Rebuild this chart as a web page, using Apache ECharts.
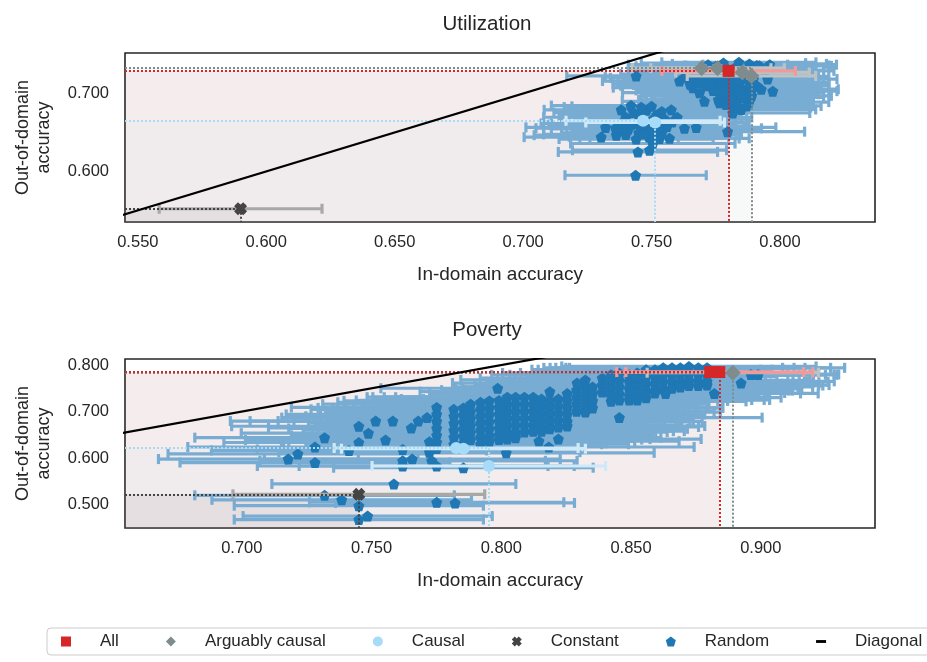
<!DOCTYPE html>
<html><head><meta charset="utf-8">
<script src="https://cdn.jsdelivr.net/npm/echarts@6/dist/echarts.min.js"></script>
<style>html,body{margin:0;padding:0;background:#fff}#c{width:927px;height:662px}</style>
</head><body><div id="c"></div>
<script>
// ---------- DATA ----------
// point format: [in-domain acc, out-of-domain acc, x error, (y error)]
const titles = ['Utilization', 'Poverty'];
const xTicksTop = [0.55, 0.6, 0.65, 0.7, 0.75, 0.8];
const yTicksTop = [0.6, 0.7];
const xTicksBot = [0.7, 0.75, 0.8, 0.85, 0.9];
const yTicksBot = [0.5, 0.6, 0.7, 0.8];
const xRangeTop = [0.545, 0.837];
const yRangeTop = [0.535, 0.752];
const xRangeBot = [0.655, 0.944];
const yRangeBot = [0.450, 0.813];
const diagonal = [[0, 0], [1, 1]];

const topAll = [[0.7800, 0.7290, 0.026, 0.003]];
const topArg = [[0.7695, 0.7325, 0.027, 0.003], [0.7757, 0.7325, 0.026, 0.003], [0.7854, 0.7270, 0.026, 0.003], [0.7889, 0.7225, 0.025, 0.003]];
const topCausal = [[0.7467, 0.6650, 0.030, 0.003], [0.7514, 0.6628, 0.027, 0.003]];
const topConst = [[0.5900, 0.5520, 0.0317, 0.004]];
const topRandom = [
  [0.7440,0.7225,0.027],[0.7609,0.7160,0.030],[0.7661,0.7075,0.031],[0.7687,0.7010,0.030],[0.7706,0.6900,0.032],
  [0.7765,0.6880,0.031],[0.7816,0.6750,0.030],[0.7849,0.6795,0.029],[0.7881,0.7140,0.031],[0.7927,0.7055,0.030],
  [0.7972,0.7030,0.025],[0.7952,0.7185,0.027],[0.7920,0.7355,0.028],[0.7881,0.7380,0.030],[0.7796,0.6510,0.030],
  [0.7660,0.7200,0.032],[0.7690,0.7250,0.031],[0.7720,0.7170,0.033],[0.7730,0.7280,0.030],[0.7750,0.7110,0.032],
  [0.7760,0.7220,0.031],[0.7780,0.7050,0.030],[0.7790,0.7170,0.033],[0.7800,0.7250,0.029],[0.7810,0.6990,0.031],
  [0.7820,0.7110,0.030],[0.7830,0.7200,0.032],[0.7840,0.6940,0.029],[0.7850,0.7070,0.031],[0.7860,0.7290,0.028],
  [0.7870,0.7010,0.030],[0.7880,0.6890,0.031],[0.7830,0.6870,0.030],[0.7800,0.6920,0.032],[0.7770,0.6970,0.031],
  [0.7740,0.7040,0.030],[0.7710,0.7100,0.033],[0.7680,0.7140,0.031],[0.7720,0.7230,0.029],[0.7760,0.7310,0.030],
  [0.7820,0.7320,0.031],[0.7850,0.7240,0.030],[0.7900,0.7220,0.029],[0.7910,0.7100,0.028],[0.7890,0.7040,0.030],
  [0.7860,0.6950,0.031],[0.7820,0.6820,0.030],[0.7790,0.6860,0.031],[0.7870,0.6840,0.029],[0.7760,0.7130,0.032],
  [0.7800,0.7110,0.030],[0.7840,0.7150,0.031],[0.7800,0.7030,0.033],[0.7740,0.7190,0.031],[0.7650,0.7120,0.030],
  [0.7630,0.7210,0.031],[0.7700,0.7310,0.029],[0.7940,0.7290,0.027],[0.7960,0.7370,0.026],[0.7910,0.7360,0.028],
  [0.7780,0.7390,0.032],[0.7840,0.7400,0.030],[0.7720,0.7370,0.031],
  [0.7750,0.7350,0.031],[0.7790,0.7330,0.030],[0.7810,0.7200,0.032],[0.7830,0.7060,0.031],[0.7850,0.6990,0.030],
  [0.7770,0.7080,0.031],[0.7790,0.7000,0.032],[0.7810,0.6930,0.030],[0.7880,0.7300,0.029],[0.7870,0.7190,0.030],
  [0.7890,0.6970,0.031],[0.7760,0.6920,0.031],[0.7730,0.7130,0.032],[0.7700,0.7200,0.031],[0.7820,0.7260,0.030],
  [0.7304,0.6440,0.030],[0.7321,0.6565,0.031],[0.7363,0.6465,0.032],[0.7382,0.6790,0.030],[0.7447,0.6250,0.031],
  [0.7492,0.6272,0.030],[0.7577,0.6790,0.029],[0.7628,0.6553,0.030],[0.7674,0.6565,0.031],[0.7505,0.6358,0.032],
  [0.7531,0.6422,0.031],[0.7380,0.6615,0.031],[0.7400,0.6695,0.032],[0.7410,0.6545,0.030],[0.7430,0.6755,0.031],
  [0.7440,0.6615,0.033],[0.7450,0.6495,0.030],[0.7460,0.6695,0.031],[0.7470,0.6575,0.032],[0.7480,0.6785,0.030],
  [0.7490,0.6445,0.031],[0.7500,0.6655,0.030],[0.7510,0.6545,0.032],[0.7520,0.6725,0.031],[0.7530,0.6605,0.030],
  [0.7540,0.6495,0.031],[0.7550,0.6675,0.032],[0.7560,0.6575,0.030],[0.7570,0.6425,0.031],[0.7580,0.6635,0.030],
  [0.7600,0.6695,0.029],[0.7420,0.6845,0.031],[0.7460,0.6825,0.030],[0.7500,0.6835,0.031],[0.7400,0.6475,0.032],
  [0.7360,0.6555,0.031],[0.7440,0.6415,0.030],[0.7520,0.6465,0.031],
  [0.7420,0.6600,0.032],[0.7450,0.6720,0.031],[0.7480,0.6620,0.030],[0.7500,0.6520,0.031],[0.7530,0.6700,0.032],
  [0.7560,0.6620,0.031],[0.7470,0.6480,0.030],[0.7390,0.6560,0.031],[0.7540,0.6770,0.030],[0.7510,0.6600,0.031],
  [0.7438,0.5950,0.0275,0.005]
];

const botAll = [[0.8805, 0.7850, 0.036, 0.003], [0.8840, 0.7850, 0.036, 0.003]];
const botArg = [[0.8892, 0.7836, 0.033, 0.003]];
const botCausal = [[0.7826, 0.6218, 0.047, 0.003], [0.7854, 0.6203, 0.047, 0.003], [0.7952, 0.5832, 0.045, 0.003]];
const botConst = [[0.7451, 0.5224, 0.0485, 0.004]];
const botRandom = [
  [0.7751,0.709,0.056],[0.7751,0.694,0.058],[0.7751,0.679,0.055],[0.7751,0.664,0.057],[0.7751,0.649,0.056],[0.7751,0.634,0.059],[0.7751,0.621,0.057],
  [0.7817,0.705,0.055],[0.7817,0.690,0.057],[0.7817,0.675,0.056],[0.7817,0.660,0.058],[0.7817,0.645,0.055],[0.7817,0.630,0.057],
  [0.7854,0.708,0.056],[0.7854,0.693,0.055],[0.7854,0.678,0.057],[0.7854,0.663,0.056],[0.7854,0.648,0.058],[0.7854,0.632,0.055],
  [0.7882,0.716,0.057],[0.7882,0.700,0.056],[0.7882,0.685,0.055],[0.7882,0.670,0.058],[0.7882,0.655,0.056],[0.7882,0.640,0.057],
  [0.7920,0.720,0.055],[0.7920,0.705,0.057],[0.7920,0.690,0.056],[0.7920,0.675,0.055],[0.7920,0.660,0.058],[0.7920,0.645,0.056],[0.7920,0.630,0.057],
  [0.7954,0.723,0.056],[0.7954,0.708,0.055],[0.7954,0.693,0.057],[0.7954,0.678,0.056],[0.7954,0.663,0.055],[0.7954,0.648,0.058],[0.7954,0.636,0.056],
  [0.7991,0.724,0.055],[0.7991,0.709,0.056],[0.7991,0.694,0.057],[0.7991,0.679,0.055],[0.7991,0.664,0.056],[0.7991,0.650,0.058],[0.7991,0.640,0.055],
  [0.8023,0.731,0.054],[0.8023,0.716,0.056],[0.8023,0.701,0.055],[0.8023,0.686,0.057],[0.8023,0.671,0.054],[0.8023,0.656,0.056],[0.8023,0.641,0.055],
  [0.8055,0.731,0.055],[0.8055,0.716,0.054],[0.8055,0.701,0.056],[0.8055,0.686,0.055],[0.8055,0.671,0.057],[0.8055,0.656,0.054],[0.8055,0.644,0.056],
  [0.8089,0.731,0.054],[0.8089,0.716,0.055],[0.8089,0.701,0.053],[0.8089,0.686,0.056],[0.8089,0.671,0.054],[0.8089,0.656,0.055],
  [0.8123,0.731,0.053],[0.8123,0.716,0.055],[0.8123,0.701,0.054],[0.8123,0.686,0.053],[0.8123,0.671,0.055],[0.8123,0.658,0.054],
  [0.8155,0.727,0.054],[0.8155,0.712,0.053],[0.8155,0.697,0.055],[0.8155,0.682,0.054],[0.8155,0.667,0.053],[0.8155,0.658,0.055],
  [0.8187,0.723,0.053],[0.8187,0.708,0.054],[0.8187,0.693,0.052],[0.8187,0.678,0.054],[0.8187,0.663,0.053],
  [0.8220,0.727,0.052],[0.8220,0.712,0.054],[0.8220,0.697,0.053],[0.8220,0.682,0.052],[0.8220,0.667,0.054],
  [0.8254,0.739,0.053],[0.8254,0.724,0.052],[0.8254,0.709,0.054],[0.8254,0.694,0.053],[0.8254,0.679,0.052],[0.8254,0.669,0.053],
  [0.8290,0.746,0.052],[0.8290,0.731,0.053],[0.8290,0.716,0.051],[0.8290,0.701,0.053],
  [0.8324,0.768,0.048],[0.8324,0.753,0.050],[0.8324,0.738,0.052],[0.8324,0.723,0.051],[0.8324,0.708,0.053],[0.8324,0.699,0.052],
  [0.8352,0.753,0.050],[0.8352,0.738,0.051],[0.8352,0.723,0.052],[0.8352,0.708,0.050],
  [0.8389,0.772,0.047],[0.8389,0.757,0.049],[0.8389,0.742,0.050],
  [0.8423,0.779,0.046],[0.8423,0.764,0.048],[0.8423,0.749,0.050],[0.8423,0.734,0.051],[0.8423,0.722,0.052],
  [0.8455,0.783,0.045],[0.8455,0.768,0.047],[0.8455,0.753,0.049],[0.8455,0.738,0.050],[0.8455,0.725,0.051],
  [0.8493,0.779,0.046],[0.8493,0.764,0.048],[0.8493,0.749,0.049],[0.8493,0.734,0.050],[0.8493,0.725,0.052],
  [0.8524,0.783,0.045],[0.8524,0.768,0.047],[0.8524,0.753,0.049],[0.8524,0.738,0.050],[0.8524,0.725,0.051],
  [0.8558,0.790,0.044],[0.8558,0.775,0.046],[0.8558,0.760,0.048],[0.8558,0.745,0.055],[0.8558,0.730,0.052],
  [0.8592,0.790,0.045],[0.8592,0.775,0.047],[0.8592,0.760,0.049],[0.8592,0.745,0.053],[0.8592,0.740,0.050],
  [0.8624,0.794,0.046],[0.8624,0.779,0.048],[0.8624,0.764,0.050],[0.8624,0.749,0.052],
  [0.8658,0.794,0.047],[0.8658,0.779,0.049],[0.8658,0.764,0.051],[0.8658,0.750,0.050],
  [0.8690,0.794,0.048],[0.8690,0.779,0.050],[0.8690,0.764,0.049],[0.8690,0.753,0.051],
  [0.8723,0.797,0.049],[0.8723,0.782,0.050],[0.8723,0.767,0.048],[0.8723,0.756,0.050],
  [0.8759,0.794,0.051],[0.8759,0.779,0.049],[0.8759,0.764,0.050],[0.8759,0.756,0.048],
  [0.8793,0.794,0.053],[0.8793,0.779,0.050],[0.8793,0.765,0.049],[0.8793,0.757,0.047],
  [0.7986,0.7502,0.045],[0.8187,0.7428,0.050],[0.8292,0.7613,0.048],[0.8455,0.6871,0.055],[0.8633,0.7390,0.052],
  [0.8821,0.7390,0.040],[0.8924,0.7613,0.030],[0.8962,0.7799,0.032],[0.8990,0.7799,0.031],
  [0.8145,0.6366,0.054],[0.8220,0.6411,0.055],[0.8183,0.6240,0.056],[0.8019,0.6114,0.057],[0.7723,0.6129,0.058],
  [0.7732,0.5944,0.056],[0.7657,0.5981,0.057],[0.7620,0.5944,0.055],[0.7620,0.5832,0.056],[0.7582,0.6797,0.055],
  [0.7554,0.6389,0.054],[0.7516,0.6797,0.056],[0.7488,0.6537,0.049],[0.7451,0.6686,0.049],[0.7451,0.6337,0.052],
  [0.7413,0.6166,0.053],[0.7319,0.6441,0.050],[0.7282,0.6240,0.049],[0.7282,0.5906,0.052],[0.7216,0.6092,0.050],
  [0.7179,0.5981,0.050],[0.7620,0.6188,0.056],[0.7653,0.6648,0.055],[0.7680,0.6797,0.054],[0.7714,0.6871,0.056],
  [0.7723,0.6352,0.057],[0.7854,0.5795,0.050],[0.7751,0.5832,0.053],
  [0.7586,0.5446,0.047],[0.7319,0.5202,0.050],[0.7385,0.5105,0.050],[0.7451,0.4979,0.048],[0.7451,0.4682,0.048],
  [0.7485,0.4756,0.048],[0.7751,0.5053,0.049],[0.7822,0.5038,0.046]
];

// ---------- STYLE ----------
const FONT = '"Liberation Sans", Arial, sans-serif';
const TXT = '#262626';
const C = {
  all: '#d62728', allBar: '#f09a9a', allArea: 'rgba(214,39,40,0.05)',
  arg: '#7f8c8d', argBar: '#bcc3c5', argArea: 'rgba(127,140,141,0.06)',
  causal: '#a6dcf7', causalBar: '#cfe9f8', causalArea: 'rgba(166,220,247,0.06)',
  cst: '#444444', cstBar: '#a8a8a8', cstArea: 'rgba(68,68,68,0.07)',
  rnd: '#1f77b4', rndBar: '#78acd2'
};
const PENT = 'path://M5,0 L10,3.8 L8.1,10 L1.9,10 L0,3.8 Z';
const XSYM = 'path://M3,0 L5,2 L7,0 L10,3 L8,5 L10,7 L7,10 L5,8 L3,10 L0,7 L2,5 L0,3 Z';
const DASH = 'path://M0,0 L7,0 L7,2 L0,2 Z';

function errSeries(name, data, g, color, z) {
  return {
    type: 'custom', name: name + ' err', xAxisIndex: g, yAxisIndex: g, z: z, silent: true, clip: true,
    encode: { x: 0, y: 1 },
    data: data,
    renderItem: function (params, api) {
      const x = api.value(0), y = api.value(1), e = api.value(2), ye = api.value(3);
      const a = api.coord([x - e, y]), b = api.coord([x + e, y]);
      const cap = 5;
      const st = { stroke: color, lineWidth: 3.2 };
      const ch = [
        { type: 'line', shape: { x1: a[0], y1: a[1], x2: b[0], y2: b[1] }, style: st },
        { type: 'line', shape: { x1: a[0], y1: a[1] - cap, x2: a[0], y2: a[1] + cap }, style: st },
        { type: 'line', shape: { x1: b[0], y1: b[1] - cap, x2: b[0], y2: b[1] + cap }, style: st }
      ];
      if (ye > 0) {
        const p = api.coord([x, y + ye]), q = api.coord([x, y - ye]);
        ch.push({ type: 'line', shape: { x1: p[0], y1: p[1], x2: q[0], y2: q[1] }, style: st });
        ch.push({ type: 'line', shape: { x1: p[0] - cap, y1: p[1], x2: p[0] + cap, y2: p[1] }, style: st });
        ch.push({ type: 'line', shape: { x1: q[0] - cap, y1: q[1], x2: q[0] + cap, y2: q[1] }, style: st });
      }
      return { type: 'group', children: ch };
    }
  };
}

function groupSeries(name, data, g, symbol, size, color, area, xr, yr, z) {
  const mx = Math.max.apply(null, data.map(d => d[0]));
  const my = Math.max.apply(null, data.map(d => d[1]));
  return {
    type: 'scatter', name: name, xAxisIndex: g, yAxisIndex: g, z: z,
    symbol: symbol, symbolSize: size, itemStyle: { color: color, opacity: 1 },
    data: data.map(d => [d[0], d[1]]),
    markArea: { silent: true, itemStyle: { color: area }, data: [[{ coord: [xr[0], yr[0]] }, { coord: [mx, my] }]] },
    markLine: {
      silent: true, symbol: ['none', 'none'], label: { show: false },
      lineStyle: { color: color, type: 'dotted', width: 2, opacity: 1 },
      data: [[{ coord: [xr[0], my] }, { coord: [mx, my] }], [{ coord: [mx, my] }, { coord: [mx, yr[0]] }]]
    }
  };
}

function panelSeries(g, xr, yr, all, arg, causal, cst, rnd) {
  return [
    errSeries('Random', rnd, g, C.rndBar, 2),
    { type: 'scatter', name: 'Random', xAxisIndex: g, yAxisIndex: g, z: 3, symbol: PENT, symbolSize: 11,
      itemStyle: { color: C.rnd, opacity: 1 }, data: rnd.map(d => [d[0], d[1]]) },
    errSeries('Causal', causal, g, C.causalBar, 4),
    errSeries('Constant', cst, g, C.cstBar, 4),
    errSeries('Arguably causal', arg, g, C.argBar, 4),
    errSeries('All', all, g, C.allBar, 4),
    groupSeries('Causal', causal, g, 'circle', 12, C.causal, C.causalArea, xr, yr, 5),
    groupSeries('Constant', cst, g, XSYM, 13, C.cst, C.cstArea, xr, yr, 5),
    groupSeries('Arguably causal', arg, g, 'diamond', 16, C.arg, C.argArea, xr, yr, 6),
    groupSeries('All', all, g, 'rect', 12, C.all, C.allArea, xr, yr, 7),
    { type: 'line', name: 'Diagonal', xAxisIndex: g, yAxisIndex: g, z: 8, showSymbol: false, clip: true,
      data: diagonal, lineStyle: { color: '#000', width: 2.2 }, itemStyle: { color: '#000' } }
  ];
}

function xAxis(g, r, ticks, gap) {
  return { gridIndex: g, type: 'value', min: r[0], max: r[1],
    axisLine: { show: false }, axisTick: { show: false }, splitLine: { show: false },
    axisLabel: { customValues: ticks, formatter: v => v.toFixed(3), fontSize: 16.5, color: TXT, margin: 12, fontFamily: FONT },
    name: 'In-domain accuracy', nameLocation: 'middle', nameGap: gap,
    nameTextStyle: { fontSize: 19, color: TXT, fontFamily: FONT } };
}
function yAxis(g, r, ticks) {
  return { gridIndex: g, type: 'value', min: r[0], max: r[1],
    axisLine: { show: false }, axisTick: { show: false }, splitLine: { show: false },
    axisLabel: { customValues: ticks, formatter: v => v.toFixed(3), fontSize: 16.5, color: TXT, margin: 16, fontFamily: FONT },
    name: 'Out-of-domain\naccuracy', nameLocation: 'middle', nameGap: 70, nameRotate: 90,
    nameTextStyle: { fontSize: 18, lineHeight: 21, color: TXT, fontFamily: FONT, align: 'center' } };
}

const chart = echarts.init(document.getElementById('c'), null, { renderer: 'canvas' });
chart.setOption({
  animation: false,
  backgroundColor: '#ffffff',
  textStyle: { fontFamily: FONT },
  title: [
    { text: titles[0], left: 482, top: 9, textAlign: 'center', textStyle: { fontSize: 20.5, fontWeight: 'normal', color: TXT, fontFamily: FONT } },
    { text: titles[1], left: 482, top: 315, textAlign: 'center', textStyle: { fontSize: 20.5, fontWeight: 'normal', color: TXT, fontFamily: FONT } }
  ],
  grid: [
    { left: 125, top: 53, width: 750, height: 169, show: true, borderColor: '#262626', borderWidth: 1.6, backgroundColor: 'transparent' },
    { left: 125, top: 359, width: 750, height: 169, show: true, borderColor: '#262626', borderWidth: 1.6, backgroundColor: 'transparent' }
  ],
  xAxis: [xAxis(0, xRangeTop, xTicksTop, 43), xAxis(1, xRangeBot, xTicksBot, 43)],
  yAxis: [yAxis(0, yRangeTop, yTicksTop), yAxis(1, yRangeBot, yTicksBot)],
  legend: {
    left: 47, top: 628, width: 1000, orient: 'horizontal', itemWidth: 10, itemHeight: 10, itemGap: 47,
    padding: [5, 14], borderColor: '#cccccc', borderWidth: 1, borderRadius: 4,
    textStyle: { fontSize: 17, color: TXT, fontFamily: FONT, padding: [0, 0, 0, 24] },
    data: [
      { name: 'All', icon: 'rect' },
      { name: 'Arguably causal', icon: 'diamond' },
      { name: 'Causal', icon: 'circle' },
      { name: 'Constant', icon: XSYM },
      { name: 'Random', icon: PENT },
      { name: 'Diagonal', icon: DASH }
    ]
  },
  series: [].concat(
    panelSeries(0, xRangeTop, yRangeTop, topAll, topArg, topCausal, topConst, topRandom),
    panelSeries(1, xRangeBot, yRangeBot, botAll, botArg, botCausal, botConst, botRandom)
  )
});
</script></body></html>
